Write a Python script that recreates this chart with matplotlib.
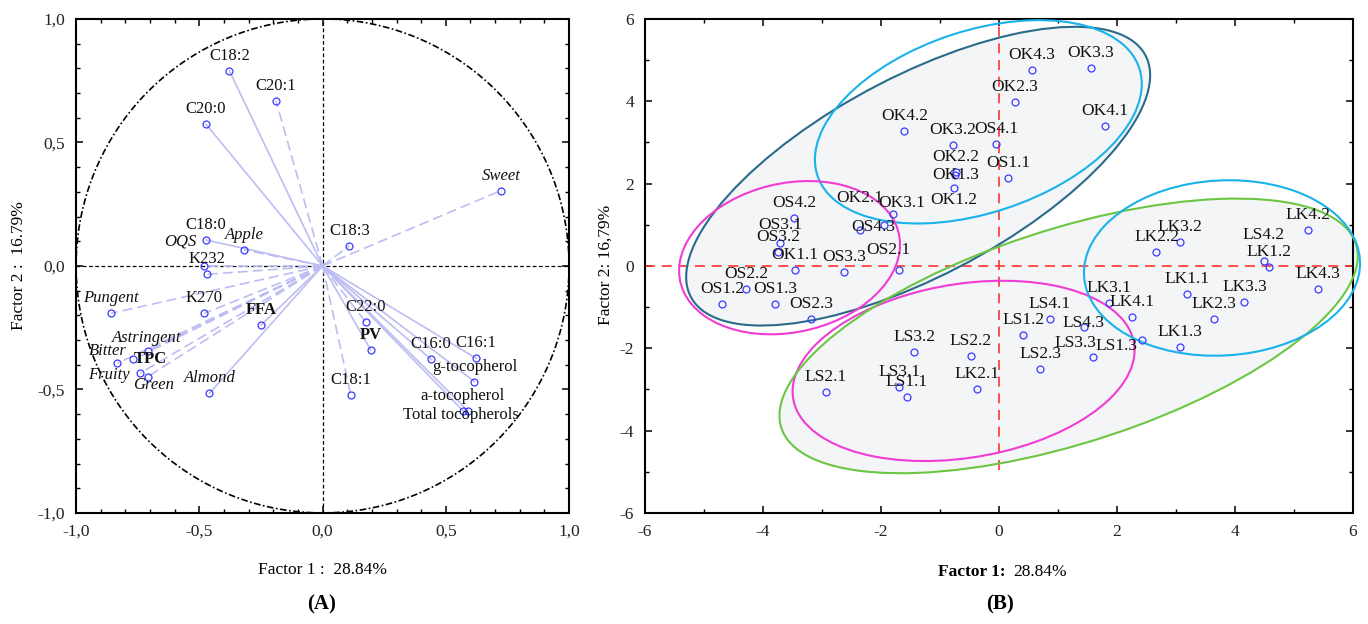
import numpy as np
import matplotlib.pyplot as plt
from matplotlib.patches import Ellipse
from matplotlib.ticker import MultipleLocator, FuncFormatter

plt.rcParams['font.family'] = ['Liberation Serif', 'DejaVu Serif']
plt.rcParams['axes.unicode_minus'] = False

# ---------------- panel A : factor loadings ----------------
var_names = ['C18:2', 'C20:1', 'C20:0', 'C18:0', 'OQS', 'K232', 'Apple', 'C18:3', 'Sweet',
             'Pungent', 'K270', 'FFA', 'Astringent', 'Bitter', 'TPC', 'Fruity', 'Green',
             'Almond', 'C22:0', 'PV', 'C18:1', 'C16:0', 'C16:1', 'g-tocopherol',
             'a-tocopherol', 'Total tocopherols']
var_f1 = [-0.378, -0.189, -0.473, -0.473, -0.480, -0.467, -0.318, 0.109, 0.724,
          -0.858, -0.480, -0.249, -0.709, -0.832, -0.767, -0.740, -0.709,
          -0.459, 0.176, 0.195, 0.114, 0.440, 0.623, 0.616, 0.569, 0.589]
var_f2 = [0.790, 0.669, 0.574, 0.105, 0.000, -0.034, 0.065, 0.082, 0.305,
          -0.192, -0.192, -0.239, -0.344, -0.394, -0.378, -0.434, -0.448,
          -0.516, -0.229, -0.340, -0.522, -0.378, -0.374, -0.468, -0.586, -0.586]
var_dashed = [False, True, False, False, True, True, True, True, True,
              True, True, False, True, True, True, True, True,
              False, True, False, True, False, False, False, False, False]
sensory = ['OQS', 'Apple', 'Sweet', 'Pungent', 'Astringent', 'Bitter', 'Fruity', 'Green', 'Almond']
bold_vars = ['FFA', 'PV', 'TPC']

# ---------------- panel B : factor scores ----------------
obs_names = ['OK4.3', 'OK3.3', 'OK2.3', 'OK4.1', 'OK4.2', 'OK3.2', 'OS4.1', 'OK2.2', 'OK1.3',
             'OS1.1', 'OK1.2', 'OK2.1', 'OK3.1', 'OS4.2', 'OS3.1', 'OS3.2', 'OS4.3', 'OK1.1',
             'OS3.3', 'OS2.1', 'OS2.2', 'OS1.2', 'OS1.3', 'OS2.3', 'LS3.2', 'LS2.2', 'LS2.1',
             'LS3.1', 'LS1.1', 'LK2.1', 'LS4.1', 'LS1.2', 'LS4.3', 'LK4.1', 'LS1.3', 'LS3.3',
             'LS2.3', 'LK3.1', 'LK3.2', 'LK2.2', 'LK4.2', 'LS4.2', 'LK1.2', 'LK4.3', 'LK1.1',
             'LK3.3', 'LK2.3', 'LK1.3']
obs_f1 = [0.554, 1.554, 0.271, 1.80, -1.605, -0.785, -0.05, -0.73, -0.74,
          0.16, -0.76, -1.95, -1.79, -3.47, -3.71, -3.74, -2.36, -3.46,
          -2.63, -1.69, -4.28, -4.69, -3.79, -3.19, -1.435, -0.475, -2.94,
          -1.69, -1.565, -0.378, 0.864, 0.41, 1.44, 2.26, 2.43, 1.60,
          0.695, 1.86, 3.06, 2.67, 5.24, 4.49, 4.58, 5.41, 3.19,
          4.16, 3.65, 3.06]
obs_f2 = [4.77, 4.81, 3.99, 3.39, 3.27, 2.94, 2.97, 2.28, 2.22,
          2.14, 1.90, 1.00, 1.25, 1.16, 0.55, 0.33, 0.875, -0.10,
          -0.14, -0.10, -0.55, -0.92, -0.92, -1.28, -2.10, -2.18, -3.06,
          -2.94, -3.18, -2.98, -1.28, -1.69, -1.49, -1.24, -1.81, -2.22,
          -2.50, -0.90, 0.57, 0.33, 0.875, 0.13, -0.02, -0.55, -0.675,
          -0.87, -1.28, -1.98]

# confidence ellipses: center x, center y, width, height, angle, colour, filled
ell_cx = [-1.37, -0.35, -3.55, -0.60, 1.18, 3.78]
ell_cy = [2.18, 3.50, 0.20, -2.55, -1.70, -0.05]
ell_w = [9.80, 6.18, 4.04, 5.97, 10.78, 4.71]
ell_h = [4.30, 4.11, 3.40, 4.14, 4.94, 4.23]
ell_ang = [41.6, 36.4, 44.0, 19.4, 27.9, 14.8]
ell_col = ['#2a6b8c', '#19b2ea', '#f03cd4', '#f03cd4', '#6cc644', '#19b2ea']
ell_fill = [True, False, False, False, True, False]

# label offsets in pixels (dx, dy); default is centred 15 px above the point
off_a = {'OQS': (-24, 24), 'Bitter': (-10, 12), 'TPC': (17, 0), 'Fruity': (-31, -2),
         'Green': (6, -8), 'Astringent': (-1, 13), 'Total tocopherols': (-7, -4)}
off_b = {'OK2.1': (-24, 27), 'OK3.1': (8, 11), 'OK1.3': (0, 0), 'OK1.2': (0, -12),
         'OS4.3': (13, 3), 'OS3.1': (0, 18), 'OS2.1': (-11, 20), 'LS4.3': (0, 4),
         'LS3.3': (-18, 14), 'LS1.3': (-26, -6), 'LS4.2': (0, 26)}

fig = plt.figure(figsize=(13.68, 6.24), dpi=100)
axA = fig.add_axes([0.0556, 0.178, 0.3604, 0.7917])
axB = fig.add_axes([0.4715, 0.178, 0.5175, 0.7917])

pt_col = '#3a3aff'
line_col = '#bdbdf3'

# ---- panel A ----
t = np.linspace(0, 2 * np.pi, 400)
axA.plot(np.cos(t), np.sin(t), color='black', lw=1.2, ls=(0, (4, 1.5, 1, 1.5)), zorder=2)
axA.axhline(0, color='black', lw=0.9, ls=(0, (3, 2)), zorder=1)
axA.axvline(0, color='black', lw=0.9, ls=(0, (3, 2)), zorder=1)
for name, x, y, d in zip(var_names, var_f1, var_f2, var_dashed):
    axA.plot([0, x], [0, y], color=line_col, lw=1.2, ls=(0, (6, 3)) if d else '-', zorder=2)
axA.plot(var_f1, var_f2, 'o', ms=5, mfc='none', mec=pt_col, mew=0.9, zorder=4)
for name, x, y in zip(var_names, var_f1, var_f2):
    dx, dy = off_a.get(name, (0, 15))
    style = 'italic' if name in sensory else 'normal'
    weight = 'bold' if name in bold_vars else 'normal'
    axA.annotate(name, (x, y), xytext=(dx, dy), textcoords='offset pixels',
                 ha='center', va='center', fontsize=12, fontstyle=style,
                 fontweight=weight, color='#111111', zorder=5)
axA.set_xlim(-1, 1)
axA.set_ylim(-1, 1)
comma = FuncFormatter(lambda v, p: f'{v:.1f}'.replace('.', ','))
axA.xaxis.set_major_locator(MultipleLocator(0.5))
axA.yaxis.set_major_locator(MultipleLocator(0.5))
axA.xaxis.set_minor_locator(MultipleLocator(0.1))
axA.yaxis.set_minor_locator(MultipleLocator(0.1))
axA.xaxis.set_major_formatter(comma)
axA.yaxis.set_major_formatter(comma)

# ---- panel B ----
for cx, cy, w, h, a, c, f in zip(ell_cx, ell_cy, ell_w, ell_h, ell_ang, ell_col, ell_fill):
    if f:
        axB.add_patch(Ellipse((cx, cy), w, h, angle=a, facecolor='#f4f5f7',
                              edgecolor='none', zorder=0.5, clip_on=False))
for cx, cy, w, h, a, c in zip(ell_cx, ell_cy, ell_w, ell_h, ell_ang, ell_col):
    axB.add_patch(Ellipse((cx, cy), w, h, angle=a, facecolor='none',
                          edgecolor=c, lw=1.5, zorder=3, clip_on=False))
axB.plot([-6, 6], [0, 0], color='#ff3333', lw=1.2, ls=(0, (6, 4)), zorder=2)
axB.plot([0, 0], [-4.95, 6], color='#ff3333', lw=1.2, ls=(0, (6, 4)), zorder=2)
axB.plot(obs_f1, obs_f2, 'o', ms=5, mfc='none', mec=pt_col, mew=0.9, zorder=4)
for name, x, y in zip(obs_names, obs_f1, obs_f2):
    dx, dy = off_b.get(name, (0, 15))
    axB.annotate(name, (x, y), xytext=(dx, dy), textcoords='offset pixels',
                 ha='center', va='center', fontsize=12.5, color='#111111', zorder=5)
axB.set_xlim(-6, 6)
axB.set_ylim(-6, 6)
axB.xaxis.set_major_locator(MultipleLocator(2))
axB.yaxis.set_major_locator(MultipleLocator(2))
axB.xaxis.set_minor_locator(MultipleLocator(1))
axB.yaxis.set_minor_locator(MultipleLocator(1))

for ax in (axA, axB):
    for s in ax.spines.values():
        s.set_linewidth(1.5)
    ax.tick_params(which='both', direction='in', top=True, right=True,
                   labelsize=12.5, labelcolor='#222222', pad=8)
    ax.tick_params(which='major', length=5, width=1.1)
    ax.tick_params(which='minor', length=3, width=1.0)

# axis titles and captions
W, H = 1368.0, 624.0
fig.text(322 / W, 1 - 570 / H, 'Factor 1 :  28.84%', ha='center', va='center', fontsize=12.5)
fig.text(19 / W, 0.575, 'Factor 2 :  16.79%', ha='center', va='center', rotation=90, fontsize=12.5)
fig.text(1006 / W, 1 - 572 / H, 'Factor 1:', ha='right', va='center', fontsize=12.5,
         fontweight='bold')
fig.text(1013 / W, 1 - 572 / H, '28.84%', ha='left', va='center', fontsize=12.5)
fig.text(606 / W, 0.575, 'Factor 2: 16,79%', ha='center', va='center', rotation=90, fontsize=12.5)
fig.text(322 / W, 1 - 604 / H, '(A)', ha='center', va='center', fontsize=15, fontweight='bold')
fig.text(1000 / W, 1 - 604 / H, '(B)', ha='center', va='center', fontsize=15, fontweight='bold')

fig.savefig('out.png', dpi=100)
